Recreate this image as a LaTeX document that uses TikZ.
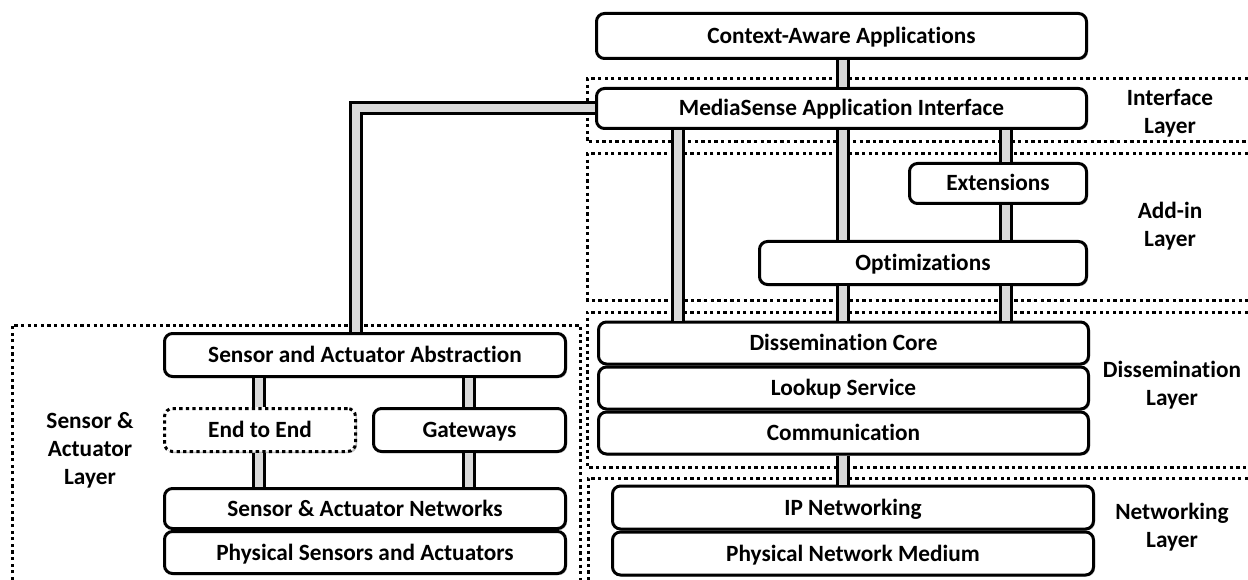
\documentclass[tikz,border=0pt]{standalone}
\usepackage{fontspec}
\setmainfont{Carlito}[Ligatures=NoCommon]
\usetikzlibrary{positioning, calc, shadows}

\tikzset{
  box/.style={draw, line width=3pt, rounded corners=8pt, fill=white,
    inner sep=0pt, minimum height=42pt, text height=18pt, text depth=3pt,
    font=\bfseries\fontsize{23.3}{28}\selectfont,
    drop shadow={opacity=0.25, fill=black, shadow xshift=1.5pt, shadow yshift=-1.5pt}},
  dotbox/.style={box, dash pattern=on 3.3pt off 3.3pt, drop shadow={opacity=0}},
  frame/.style={line width=3pt, dash pattern=on 3.3pt off 3.3pt},
  pipe/.style={line width=3pt, double=black!15, double distance=8pt},
  layer/.style={align=center, font=\bfseries\fontsize{23.3}{28}\selectfont}
}

\begin{document}
\begin{tikzpicture}[x=1pt, y=-1pt]
  \useasboundingbox (0,0) rectangle (1248,580);

  % layer frames
  \draw[frame] (1248,79) -| (587,142) -- (1248,142);
  \draw[frame] (1248,154) -| (587,300) -- (1248,300);
  \draw[frame] (1248,312) -| (587,467) -- (1248,467);
  \draw[frame] (1248,478) -| (588,580);
  \draw[frame] (12,580) |- (580,325) -- (580,580);

  % layer labels
  \node[layer] (lblint) at (1170,113) {Interface\\Layer};
  \node[layer] (lbladd) at (1170,226) {Add-in\\Layer};
  \node[layer] (lbldis) at (1172,385) {Dissemination\\Layer};
  \node[layer] (lblnet) at (1172,527) {Networking\\Layer};
  \node[layer] (lblsen) at (90,450) {Sensor \&\\Actuator\\Layer};

  % middleware stack
  \node[box, minimum width=490pt, minimum height=45pt] (ctx) at (841.5,36) {Context-Aware Applications};
  \node[box, minimum width=490pt, minimum height=40pt] (api) at (841.5,108.5) {MediaSense Application Interface};
  \node[box, minimum width=177pt, minimum height=40pt] (ext) at (998,183.5) {Extensions};
  \node[box, minimum width=327pt, minimum height=43pt] (opt) at (923,263) {Optimizations};
  \node[box, minimum width=490pt] (core) at (843.5,343) {Dissemination Core};
  \node[box, minimum width=490pt, below=0pt of core] (lookup) {Lookup Service};
  \node[box, minimum width=490pt, below=0pt of lookup] (comm) {Communication};
  \node[box, minimum width=481pt, minimum height=43pt] (ipn) at (853,507.5) {IP Networking};
  \node[box, minimum width=481pt, minimum height=43pt, below=0pt of ipn] (phys) {Physical Network Medium};

  % sensor side
  \node[box, minimum width=401pt, minimum height=43pt] (abs) at (365,355) {Sensor and Actuator Abstraction};
  \node[dotbox, minimum width=191pt, minimum height=43pt] (e2e) at (260,430) {End to End};
  \node[box, minimum width=192pt, minimum height=43pt] (gw) at (469.5,430) {Gateways};
  \node[box, minimum width=401pt, minimum height=40pt] (san) at (365,508.5) {Sensor \& Actuator Networks};
  \node[box, minimum width=401pt, below=0pt of san] (psa) {Physical Sensors and Actuators};

  % pipe columns
  \coordinate (xm) at (843,0);
  \coordinate (xa) at (678,0);
  \coordinate (xe) at (1006,0);
  \coordinate (xl) at (356,0);
  \coordinate (xs) at (259,0);
  \coordinate (xg) at (469,0);

  \draw[pipe] (ctx.south -| xm) -- (api.north -| xm);
  \draw[pipe] (api.south -| xa) -- (core.north -| xa);
  \draw[pipe] (api.south -| xm) -- (opt.north -| xm);
  \draw[pipe] (opt.south -| xm) -- (core.north -| xm);
  \draw[pipe] (api.south -| xe) -- (ext.north -| xe);
  \draw[pipe] (ext.south -| xe) -- (opt.north -| xe);
  \draw[pipe] (opt.south -| xe) -- (core.north -| xe);
  \draw[pipe] (comm.south -| xm) -- (ipn.north -| xm);
  \draw[pipe] (api.west) -| (abs.north -| xl);
  \draw[pipe] (abs.south -| xs) -- (e2e.north -| xs);
  \draw[pipe] (e2e.south -| xs) -- (san.north -| xs);
  \draw[pipe] (abs.south -| xg) -- (gw.north -| xg);
  \draw[pipe] (gw.south -| xg) -- (san.north -| xg);
\end{tikzpicture}
\end{document}
